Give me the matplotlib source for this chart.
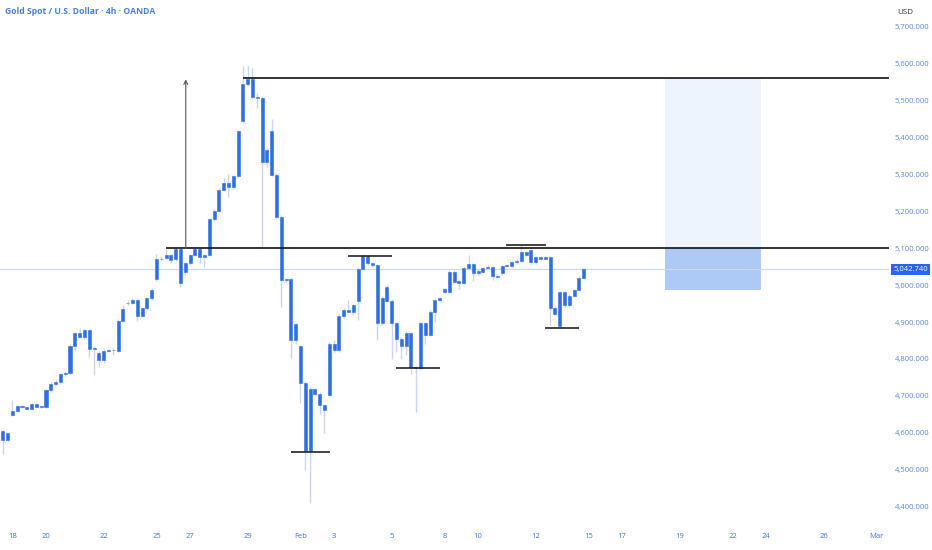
import matplotlib
matplotlib.use("Agg")
import matplotlib.pyplot as plt
from matplotlib.patches import Rectangle
import numpy as np

# ---------------- data ----------------
first_index = -2  # candle index of first visible 4h bar (index 0 = Jan 18 open)

opens = [4604, 4581, 4649, 4658, 4670, 4669, 4665, 4677, 4672, 4671,
         4715, 4733, 4737, 4759, 4763, 4835, 4870, 4859, 4879, 4826,
         4816, 4798, 4822, 4825, 4822, 4904, 4951, 4953, 4960, 4917,
         4937, 4964, 5016, 5070, 5074, 5081, 5070, 5099, 5035, 5059,
         5081, 5097, 5077, 5081, 5178, 5201, 5259, 5277, 5266, 5295,
         5444, 5544, 5559, 5511, 5507, 5334, 5419, 5299, 5185, 5013,
         5018, 4852, 4834, 4736, 4550, 4718, 4706, 4674, 4703, 4840,
         4825, 4917, 4933, 4928, 4958, 5045, 5080, 5059, 5054, 4897,
         4994, 4958, 4897, 4855, 4834, 4870, 4779, 4775, 4897, 4866,
         4928, 4960, 4982, 4982, 5037, 5007, 5007, 5046, 5058, 5032,
         5037, 5046, 5050, 5026, 5032, 5052, 5053, 5062, 5066, 5090,
         5094, 5062, 5075, 5072, 5075, 4939, 4888, 4981, 4946, 4971,
         4987, 5020]
closes = [4581, 4598, 4658, 4672, 4673, 4665, 4678, 4671, 4669, 4715,
          4733, 4737, 4759, 4763, 4835, 4870, 4859, 4879, 4826, 4831,
          4798, 4822, 4825, 4823, 4904, 4935, 4953, 4960, 4917, 4937,
          4964, 4987, 5070, 5072, 5081, 5068, 5099, 5007, 5059, 5081,
          5097, 5077, 5081, 5178, 5201, 5259, 5277, 5266, 5295, 5417,
          5544, 5559, 5511, 5507, 5334, 5367, 5299, 5185, 5014, 5017,
          4852, 4894, 4736, 4550, 4719, 4706, 4674, 4661, 4840, 4825,
          4917, 4933, 4928, 4946, 5045, 5080, 5059, 5054, 4897, 4964,
          4958, 4897, 4855, 4834, 4870, 4779, 4775, 4897, 4866, 4928,
          4960, 4964, 4989, 5037, 5008, 5010, 5046, 5058, 5032, 5039,
          5046, 5050, 5025, 5023, 5052, 5055, 5062, 5066, 5090, 5083,
          5062, 5075, 5072, 5075, 4939, 4922, 4981, 4946, 4971, 4987,
          5020, 5042.74]
highs = [4608, 4600, 4690, 4675, 4676, 4672, 4681, 4680, 4674, 4718,
         4737, 4742, 4763, 4767, 4840, 4873, 4883, 4882, 4882, 4834,
         4822, 4826, 4828, 4830, 4908, 4945, 4958, 4965, 4963, 4940,
         4967, 4992, 5085, 5078, 5096, 5085, 5103, 5102, 5063, 5084,
         5100, 5100, 5085, 5182, 5206, 5264, 5290, 5300, 5299, 5421,
         5595, 5595, 5590, 5520, 5512, 5372, 5450, 5303, 5189, 5020,
         5022, 4898, 4838, 4740, 4725, 4722, 4710, 4678, 4845, 4850,
         4921, 4938, 4960, 4950, 5050, 5085, 5083, 5062, 5058, 4970,
         5000, 4962, 4900, 4860, 4875, 4874, 4782, 4900, 4900, 4932,
         4963, 4968, 4993, 5040, 5040, 5013, 5049, 5082, 5061, 5043,
         5050, 5054, 5053, 5030, 5056, 5058, 5066, 5070, 5109, 5093,
         5097, 5078, 5078, 5078, 5078, 4943, 4984, 4984, 4975, 4990,
         5024, 5047]
lows = [4541, 4578, 4645, 4655, 4667, 4662, 4663, 4669, 4667, 4668,
        4710, 4729, 4733, 4755, 4758, 4822, 4856, 4855, 4806, 4757,
        4779, 4790, 4818, 4811, 4820, 4900, 4945, 4950, 4903, 4913,
        4932, 4960, 5012, 5066, 5072, 5060, 5066, 4995, 5028, 5055,
        5078, 5060, 5050, 5078, 5175, 5198, 5255, 5240, 5262, 5290,
        5440, 5540, 5505, 5480, 5100, 5320, 5295, 5180, 4942, 5005,
        4802, 4840, 4680, 4500, 4410, 4700, 4650, 4600, 4700, 4815,
        4820, 4912, 4925, 4920, 4905, 5040, 5055, 5050, 4852, 4893,
        4955, 4800, 4820, 4800, 4812, 4759, 4657, 4770, 4840, 4862,
        4900, 4956, 4978, 4978, 5005, 4990, 5003, 5042, 5010, 5028,
        5033, 5043, 5014, 5020, 5028, 5050, 5050, 5058, 5062, 5080,
        5058, 5058, 5070, 5070, 4892, 4918, 4884, 4942, 4940, 4968,
        4984, 5017]

last_price = 5042.74
resistance = 5100
top_level = 5562
box_bottom = 4987

# date labels on the time axis (candle index, text)
date_idx = [0, 7, 19, 30, 37, 49, 60, 67, 79, 90, 97, 109, 120, 127, 139,
            150, 157, 169, 180]
date_lbl = ["18", "20", "22", "25", "27", "29", "Feb", "3", "5", "8", "10",
            "12", "15", "17", "19", "22", "24", "26", "Mar"]

price_ticks = [4400, 4500, 4600, 4700, 4800, 4900, 5000, 5100, 5200, 5300,
               5400, 5500, 5600, 5700]

# swing marks (start index, end index, price)
marks = [(58, 66.1, 4549), (70, 79.1, 5080), (79.9, 89.1, 4775),
         (102.8, 111.1, 5109), (110.9, 118.1, 4883)]

# ---------------- style ----------------
BODY = "#2f6fdf"
WICK = "#c8d6f1"
LBL = "#5a88dc"

plt.rcParams['font.family'] = ['Open Sans', 'DejaVu Sans']

W, H = 932, 550
fig = plt.figure(figsize=(W / 100, H / 100), dpi=100)
fig.patch.set_facecolor("white")
ax = fig.add_axes([0, (550 - 522) / 550, 889 / 932, 522 / 550])
ax.set_facecolor("white")

x = np.arange(first_index, first_index + len(opens))
o = np.array(opens, float)
c = np.array(closes, float)
h = np.array(highs, float)
l = np.array(lows, float)

# box (target zone)
ax.add_patch(Rectangle((136, resistance), 20, top_level - resistance,
                       facecolor="#edf4fe", edgecolor="none", zorder=0))
ax.add_patch(Rectangle((136, box_bottom), 20, resistance - box_bottom,
                       facecolor="#adc9f6", edgecolor="none", zorder=0))

# last price line
ax.axhline(last_price, color="#cbd8f0", lw=0.9, zorder=1)

# candles
ax.vlines(x, l, h, color=WICK, lw=1.0, zorder=2)
body_h = c - o
ax.bar(x, body_h, bottom=o, width=0.66, color=BODY, edgecolor=BODY,
       linewidth=0.4, zorder=3)

# levels
ax.hlines(top_level, 48, 190, color="#111111", lw=1.2, zorder=4)
ax.hlines(resistance, 32, 190, color="#111111", lw=1.2, zorder=4)
for s, e, p in marks:
    ax.hlines(p, s, e, color="#222222", lw=1.2, zorder=4)

# measuring arrow
ax.annotate("", xy=(36.1, 5558), xytext=(36.1, resistance),
            arrowprops=dict(arrowstyle="->", color="#555555", lw=0.8,
                            mutation_scale=7, shrinkA=0, shrinkB=0), zorder=4)

ax.set_xlim(-2.6, 182.6)
ax.set_ylim(4358, 5773)
for sp in ax.spines.values():
    sp.set_visible(False)

ax.set_xticks(date_idx)
ax.set_xticklabels(date_lbl)
ax.set_yticks(price_ticks)
ax.set_yticklabels([f"{p:,.3f}" for p in price_ticks])
ax.yaxis.tick_right()
ax.tick_params(axis="y", length=0, pad=4, labelsize=5.5, labelcolor=LBL)
ax.tick_params(axis="x", length=0, pad=8, labelsize=5.5, labelcolor="#3f74d6")
ax.set_xticks([], minor=True)

# last-price tag
ax.annotate(f"{last_price:,.3f}", xy=(1.0, last_price), xycoords=("axes fraction", "data"),
            xytext=(3, 0), textcoords="offset points", ha="left", va="center",
            fontsize=5.5, color="white", annotation_clip=False,
            bbox=dict(boxstyle="square,pad=0.3", fc="#2962ff", ec="none"), zorder=6)

# header texts
fig.text(5 / W, 1 - 12 / H, "Gold Spot / U.S. Dollar · 4h · OANDA", ha="left",
         va="center", fontsize=6.2, color="#4a7fd6", fontweight="bold")
fig.text(897 / W, 1 - 12 / H, "USD", ha="left", va="center", fontsize=5.8,
         color="#333333")

fig.savefig("out.png", dpi=100, facecolor="white")
